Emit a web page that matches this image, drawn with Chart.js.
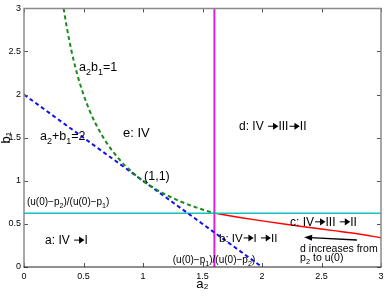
<!DOCTYPE html>
<html><head><meta charset="utf-8">
<script src="https://cdn.jsdelivr.net/npm/chart.js@4/dist/chart.umd.min.js"></script>
<style>html,body{margin:0;padding:0;background:#fff;}</style>
</head><body>
<canvas id="c" width="388" height="296"></canvas>
<script>
// ---- data ----
const hyperA = [0.333,0.36,0.4,0.45,0.5,0.55,0.6,0.7,0.8,0.9,1.0,1.1,1.2,1.3,1.4,1.5,1.6];
const hyperB = [3.0,2.778,2.5,2.222,2.0,1.818,1.667,1.429,1.25,1.111,1.0,0.909,0.833,0.769,0.714,0.667,0.625];
const sumA = [0, 2];
const sumB = [2, 0];
const vertA = [1.6, 1.6];
const vertB = [0, 3];
const horizA = [0, 3];
const horizB = [0.625, 0.625];
const redA = [1.6, 1.8, 2.0, 2.2, 2.4, 2.6, 2.8, 3.0];
const redB = [0.625, 0.578, 0.535, 0.495, 0.458, 0.422, 0.385, 0.34];
const xTicks = [0, 0.5, 1, 1.5, 2, 2.5, 3];
const yTicks = [0, 0.5, 1, 1.5, 2, 2.5, 3];

const pts = (xs, ys) => xs.map((x, i) => ({x: x, y: ys[i]}));

// annotation texts ("_c" = subscript character)
const notes = [
  {t: 'a_2b_1=1', a: 0.462, b: 2.27, s: 12.5},
  {t: 'a_2+b_1=2', a: 0.134, b: 1.475, s: 12.5},
  {t: 'e: IV', a: 0.832, b: 1.506, s: 13},
  {t: 'd: IV \u2192III\u2192II', a: 1.807, b: 1.587, s: 12},
  {t: '(1,1)', a: 1.009, b: 1.008, s: 12.5},
  {t: '(u(0)\u2212p_2)/(u(0)\u2212p_1)', a: 0.025, b: 0.718, s: 10},
  {t: 'a: IV \u2192I', a: 0.177, b: 0.266, s: 12},
  {t: 'b: IV\u2192I \u2192II', a: 1.639, b: 0.293, s: 11.5},
  {t: 'c: IV\u2192III \u2192II', a: 2.236, b: 0.478, s: 12},
  {t: 'd increases from', a: 2.32, b: 0.177, s: 10.5},
  {t: 'p_2 to u(0)', a: 2.32, b: 0.073, s: 10.5},
  {t: '(u(0)\u2212p_1)/(u(0)\u2212p_2)', a: 1.25, b: 0.043, s: 10}
];
const arrowFrom = {a: 2.797, b: 0.313};
const arrowTo = {a: 2.354, b: 0.344};

const FONT = '"Liberation Sans", Arial, Helvetica, sans-serif';

function drawArrowGlyph(ctx, x, y, size) {
  const w = size * 0.95, h = size * 0.3, yy = y - size * 0.33;
  ctx.save();
  ctx.lineWidth = Math.max(1, size * 0.08);
  ctx.strokeStyle = ctx.fillStyle;
  ctx.beginPath();
  ctx.moveTo(x + 1, yy); ctx.lineTo(x + w - size * 0.35, yy);
  ctx.stroke();
  ctx.beginPath();
  ctx.moveTo(x + w, yy);
  ctx.lineTo(x + w - size * 0.45, yy - h);
  ctx.lineTo(x + w - size * 0.45, yy + h);
  ctx.closePath();
  ctx.fill();
  ctx.restore();
  return w;
}

function drawRich(ctx, x, y, str, size) {
  let i = 0;
  ctx.textBaseline = 'alphabetic';
  ctx.textAlign = 'left';
  while (i < str.length) {
    let ch = str[i];
    if (ch === '_' && i + 1 < str.length) {
      const c = str[i + 1];
      ctx.font = (size * 0.72) + 'px ' + FONT;
      ctx.fillText(c, x, y + size * 0.3);
      x += ctx.measureText(c).width;
      i += 2;
    } else if (ch === '\u2192') {
      ctx.font = size + 'px ' + FONT;
      ctx.save(); ctx.globalAlpha = 0; ctx.fillText(ch, x, y); ctx.restore();
      x += drawArrowGlyph(ctx, x, y, size);
      i += 1;
    } else {
      ctx.font = size + 'px ' + FONT;
      ctx.fillText(ch, x, y);
      x += ctx.measureText(ch).width;
      i += 1;
    }
  }
}

const decor = {
  id: 'decor',
  afterDatasetsDraw(chart) {
    const ctx = chart.ctx;
    const xs = chart.scales.x, ys = chart.scales.y;
    const ca = chart.chartArea;
    ctx.save();
    ctx.strokeStyle = '#555';
    ctx.lineWidth = 1;
    xTicks.forEach(v => {
      const px = Math.round(xs.getPixelForValue(v)) + 0.5;
      ctx.beginPath();
      ctx.moveTo(px, ca.bottom); ctx.lineTo(px, ca.bottom - 4);
      ctx.moveTo(px, ca.top); ctx.lineTo(px, ca.top + 4);
      ctx.stroke();
    });
    yTicks.forEach(v => {
      const py = Math.round(ys.getPixelForValue(v)) + 0.5;
      ctx.beginPath();
      ctx.moveTo(ca.left, py); ctx.lineTo(ca.left + 4, py);
      ctx.moveTo(ca.right, py); ctx.lineTo(ca.right - 4, py);
      ctx.stroke();
    });
    ctx.strokeStyle = '#8a8a8a';
    ctx.lineWidth = 1.5;
    ctx.beginPath();
    ctx.moveTo(ca.left, ca.bottom); ctx.lineTo(ca.left, ca.top);
    ctx.lineTo(ca.right, ca.top); ctx.lineTo(ca.right, ca.bottom);
    ctx.stroke();
    ctx.strokeStyle = '#222';
    ctx.lineWidth = 1.2;
    ctx.beginPath();
    ctx.moveTo(ca.left - 0.5, ca.bottom); ctx.lineTo(ca.right + 0.5, ca.bottom);
    ctx.stroke();
    ctx.fillStyle = '#000';
    notes.forEach(n => {
      drawRich(ctx, xs.getPixelForValue(n.a), ys.getPixelForValue(n.b), n.t, n.s);
    });
    const x1 = xs.getPixelForValue(arrowFrom.a), y1 = ys.getPixelForValue(arrowFrom.b);
    const x2 = xs.getPixelForValue(arrowTo.a), y2 = ys.getPixelForValue(arrowTo.b);
    const ang = Math.atan2(y2 - y1, x2 - x1);
    ctx.strokeStyle = '#000';
    ctx.lineWidth = 1.3;
    ctx.beginPath();
    ctx.moveTo(x1, y1);
    ctx.lineTo(x2 - 6 * Math.cos(ang), y2 - 6 * Math.sin(ang));
    ctx.stroke();
    ctx.beginPath();
    ctx.moveTo(x2, y2);
    ctx.lineTo(x2 - 8 * Math.cos(ang) + 3 * Math.sin(ang), y2 - 8 * Math.sin(ang) - 3 * Math.cos(ang));
    ctx.lineTo(x2 - 8 * Math.cos(ang) - 3 * Math.sin(ang), y2 - 8 * Math.sin(ang) + 3 * Math.cos(ang));
    ctx.closePath();
    ctx.fill();
    ctx.restore();
  }
};

const common = {showLine: true, pointRadius: 0, fill: false};
const fmt = v => String(v);

new Chart(document.getElementById('c'), {
  type: 'scatter',
  data: {
    datasets: [
      Object.assign({label: 'a2b1=1', data: pts(hyperA, hyperB), borderColor: '#1a8a1a', borderWidth: 2, borderDash: [4, 3], cubicInterpolationMode: 'monotone'}, common),
      Object.assign({label: 'a2+b1=2', data: pts(sumA, sumB), borderColor: '#1010ee', borderWidth: 2, borderDash: [4, 3]}, common),
      Object.assign({label: 'cyan', data: pts(horizA, horizB), borderColor: '#14c0c0', borderWidth: 1.5}, common),
      Object.assign({label: 'red', data: pts(redA, redB), borderColor: '#ff0000', borderWidth: 1.5, cubicInterpolationMode: 'monotone'}, common),
      Object.assign({label: 'magenta', data: pts(vertA, vertB), borderColor: '#e020e0', borderWidth: 2}, common)
    ]
  },
  options: {
    responsive: false,
    animation: false,
    devicePixelRatio: 1,
    layout: {padding: {top: 8, right: 7, left: 0, bottom: 0}},
    plugins: {legend: {display: false}, tooltip: {enabled: false}},
    scales: {
      x: {
        type: 'linear', min: 0, max: 3,
        afterBuildTicks: s => { s.ticks = xTicks.map(v => ({value: v})); },
        afterFit: s => { s.height = 29; },
        grid: {display: false, drawTicks: false},
        border: {display: false},
        ticks: {color: '#000', font: {size: 9, family: FONT}, padding: 4, maxRotation: 0, callback: fmt},
        title: {display: true, text: 'a\u2082', color: '#000', font: {size: 13, family: FONT}, padding: {top: 0, bottom: 4}}
      },
      y: {
        type: 'linear', min: 0, max: 3,
        afterBuildTicks: s => { s.ticks = yTicks.map(v => ({value: v})); },
        afterFit: s => { s.width = 24; },
        grid: {display: false, drawTicks: false},
        border: {display: false},
        ticks: {color: '#000', font: {size: 9, family: FONT}, padding: 3, callback: fmt},
        title: {display: true, text: 'b\u2081', color: '#000', font: {size: 13, family: FONT, lineHeight: 1}, padding: {top: 0, bottom: 0}}
      }
    }
  },
  plugins: [decor]
});
</script>
</body></html>
